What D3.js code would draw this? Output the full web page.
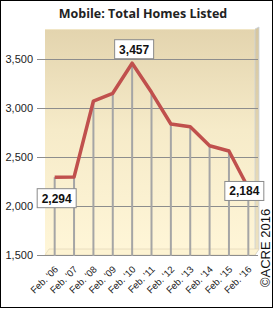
<!DOCTYPE html>
<html>
<head>
<meta charset="utf-8">
<script src="https://cdn.jsdelivr.net/npm/d3@7"></script>
<style>
  html, body { margin: 0; padding: 0; background: #fff; }
  svg { display: block; }
</style>
</head>
<body>
<div id="chart"></div>
<script>
// Mobile: total homes listed, February of each year

const years = ["Feb. '06", "Feb. '07", "Feb. '08", "Feb. '09", "Feb. '10", "Feb. '11",
               "Feb. '12", "Feb. '13", "Feb. '14", "Feb. '15", "Feb. '16"];
const listed = [2294, 2295, 3071, 3150, 3457, 3160, 2837, 2809, 2615, 2561, 2184];
const yTicks = [1500, 2000, 2500, 3000, 3500];
const callouts = [0, 4, 10]; // indexes that get a value box

const W = 273, H = 309;
const fmt = d3.format(",");

const x = d3.scaleBand().domain(years).range([45, 258]).paddingInner(0).paddingOuter(0);
const y = d3.scaleLinear().domain([1500, 3500]).range([255, 59]);
const cx = (d) => x(d) + x.bandwidth() / 2;

const svg = d3.select("#chart").append("svg")
    .attr("width", W)
    .attr("height", H);

const defs = svg.append("defs");
const grad = defs.append("linearGradient")
    .attr("id", "wall")
    .attr("x1", 0).attr("y1", 0).attr("x2", 0).attr("y2", 1);
grad.append("stop").attr("offset", "0%").attr("stop-color", "#e3d4ae");
grad.append("stop").attr("offset", "45%").attr("stop-color", "#f6ebc9");
grad.append("stop").attr("offset", "100%").attr("stop-color", "#fff6d8");

const side = defs.append("linearGradient")
    .attr("id", "side")
    .attr("x1", 0).attr("y1", 0).attr("x2", 0).attr("y2", 1);
side.append("stop").attr("offset", "0%").attr("stop-color", "#d6c69f");
side.append("stop").attr("offset", "100%").attr("stop-color", "#efe3c0");

// title
svg.append("text")
    .attr("x", 143)
    .attr("y", 18)
    .attr("text-anchor", "middle")
    .attr("font-family", "Open Sans, Liberation Sans, sans-serif")
    .attr("font-size", "12.5px")
    .attr("font-weight", "bold")
    .attr("fill", "#222")
    .text("Mobile: Total Homes Listed");

// back wall (3d look: right side strip + floor)
const wallTop = y(3806);
const [x0, x1] = x.range();
svg.append("rect")
    .attr("x", x0)
    .attr("y", wallTop)
    .attr("width", x1 - x0 - 3)
    .attr("height", y(1500) - wallTop)
    .attr("fill", "url(#wall)");
svg.append("polygon")
    .attr("points", `${x1 - 3},${wallTop} ${x1 + 1},${wallTop - 2} ${x1 + 1},${y(1500) - 6} ${x1 - 3},${y(1500)}`)
    .attr("fill", "url(#side)")
    .attr("stroke", "#c9d2dc")
    .attr("stroke-width", 0.8);
svg.append("line")
    .attr("x1", x0).attr("x2", x1 - 3)
    .attr("y1", wallTop + 0.5).attr("y2", wallTop + 0.5)
    .attr("stroke", "#f1e6c6")
    .attr("stroke-width", 1);
svg.append("polygon")
    .attr("points", `${x0},${y(1500)} ${x0 + 4},${y(1500) - 6} ${x1 + 1},${y(1500) - 6} ${x1 - 3},${y(1500)}`)
    .attr("fill", "#fdf3d2")
    .attr("stroke", "#ddd2b4")
    .attr("stroke-width", 0.6);

// gridlines + y axis labels
const grid = svg.append("g");
grid.selectAll("line")
    .data(yTicks)
    .enter()
    .append("line")
    .attr("x1", 37)
    .attr("x2", x1)
    .attr("y1", (d) => y(d) + 0.5)
    .attr("y2", (d) => y(d) + 0.5)
    .attr("stroke", "#8d8d8d")
    .attr("stroke-width", 1);

grid.selectAll("text")
    .data(yTicks)
    .enter()
    .append("text")
    .attr("x", 33)
    .attr("y", (d) => y(d))
    .attr("dy", "0.36em")
    .attr("text-anchor", "end")
    .attr("font-family", "Liberation Sans, Arial, sans-serif")
    .attr("font-size", "11px")
    .attr("fill", "#222")
    .text((d) => fmt(d));

// drop lines from each point to the floor
svg.append("g")
    .selectAll("line")
    .data(years)
    .enter()
    .append("line")
    .attr("x1", (d) => cx(d))
    .attr("x2", (d) => cx(d))
    .attr("y1", (d, i) => y(listed[i]))
    .attr("y2", y(1500) + 1)
    .attr("stroke", "#a5a5a5")
    .attr("stroke-width", 2);

// line
const line = d3.line()
    .x((d, i) => cx(years[i]))
    .y((d) => y(d));

svg.append("path")
    .datum(listed)
    .attr("d", line)
    .attr("fill", "none")
    .attr("stroke", "#c0504d")
    .attr("stroke-width", 3.5)
    .attr("stroke-linejoin", "round");

// x axis labels, rotated
svg.append("g")
    .selectAll("text")
    .data(years)
    .enter()
    .append("text")
    .attr("transform", (d) => `translate(${cx(d) + 4},${y(1500) + 15}) rotate(-45)`)
    .attr("text-anchor", "end")
    .attr("font-family", "Liberation Sans, Arial, sans-serif")
    .attr("font-size", "9.5px")
    .attr("fill", "#222")
    .text((d) => d);

// value callouts: offset of box center from the point
const boxOffset = { 0: [2, 21], 4: [2, -14], 10: [-4, 3] };
const boxes = svg.append("g")
    .selectAll("g")
    .data(callouts)
    .enter()
    .append("g")
    .attr("transform", (i) => {
        const [dx, dy] = boxOffset[i];
        return `translate(${cx(years[i]) + dx},${y(listed[i]) + dy})`;
    });

boxes.append("rect")
    .attr("x", -19.5)
    .attr("y", -9.5)
    .attr("width", 39)
    .attr("height", 19)
    .attr("fill", "#fff")
    .attr("stroke", "#8a8a8a")
    .attr("stroke-width", 1);

boxes.append("text")
    .attr("text-anchor", "middle")
    .attr("dy", "0.36em")
    .attr("font-family", "Liberation Sans, Arial, sans-serif")
    .attr("font-size", "12px")
    .attr("font-weight", "bold")
    .attr("fill", "#111")
    .text((i) => fmt(listed[i]));

// copyright, vertical on the right
svg.append("text")
    .attr("transform", "translate(270,248) rotate(-90)")
    .attr("text-anchor", "middle")
    .attr("font-family", "Liberation Sans, Arial, sans-serif")
    .attr("font-size", "13px")
    .attr("fill", "#111")
    .text("\u00A9ACRE 2016");

// outer frame
svg.append("rect")
    .attr("x", 0.5)
    .attr("y", 0.5)
    .attr("width", W - 1)
    .attr("height", H - 2)
    .attr("fill", "none")
    .attr("stroke", "#000")
    .attr("stroke-width", 1);
</script>
</body>
</html>
